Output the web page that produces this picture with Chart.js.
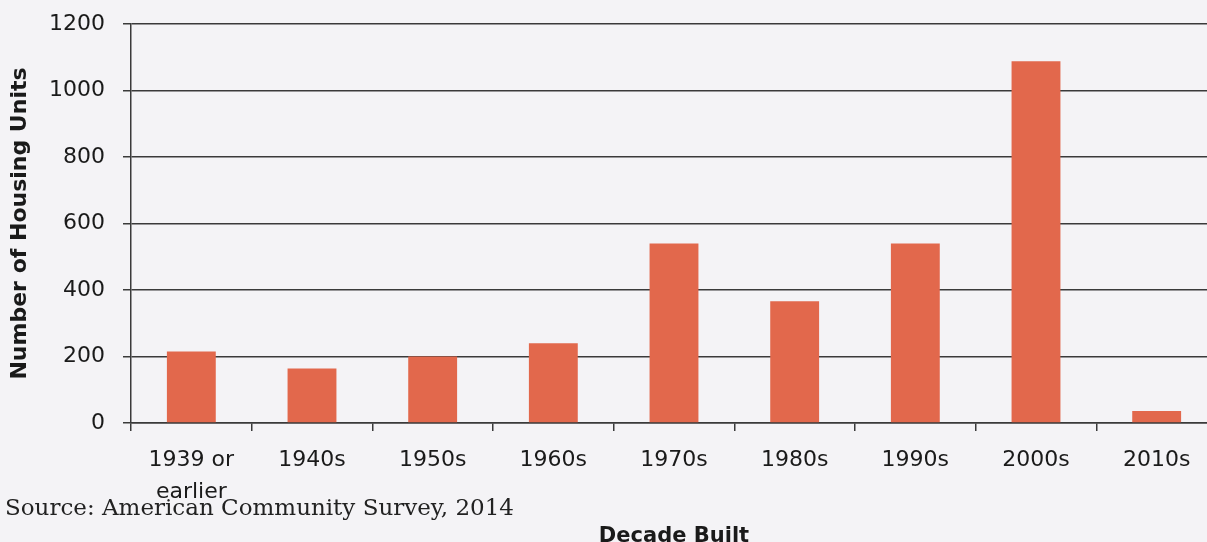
<!DOCTYPE html>
<html>
<head>
<meta charset="utf-8">
<script src="https://cdn.jsdelivr.net/npm/chart.js@4.4.0/dist/chart.umd.min.js"></script>
<style>
    html, body {
        margin: 0;
        padding: 0;
        overflow: hidden;
        background: #f4f3f6;
    }
    #wrap {
        position: absolute;
        left: 0;
        top: 0;
        width: 1230px;
        height: 542px;
    }
    #source {
        position: absolute;
        left: 5px;
        top: 494px;
        font-family: "DejaVu Serif", serif;
        font-size: 23px;
        color: #222;
        white-space: nowrap;
    }
</style>
</head>
<body>
<div id="wrap">
    <canvas id="housingChart" width="1230" height="542"></canvas>
    <div id="source">Source: American Community Survey, 2014</div>
</div>
<script>
const decades = [['1939 or', 'earlier'], '1940s', '1950s', '1960s', '1970s', '1980s', '1990s', '2000s', '2010s'];
const housingUnits = [215, 164, 200, 240, 540, 366, 540, 1088, 36];
const yTicks = [0, 200, 400, 600, 800, 1000, 1200];

const lineColor = '#3a3a3a';
const tickFont = { family: 'DejaVu Sans', size: 22, lineHeight: 1.45 };

const ctx = document.getElementById('housingChart').getContext('2d');
const housingChart = new Chart(ctx, {
    type: 'bar',
    data: {
        labels: decades,
        datasets: [{
            label: 'Number of Housing Units',
            data: housingUnits,
            backgroundColor: '#e2684c',
            borderWidth: 0,
            categoryPercentage: 1,
            barPercentage: 0.405
        }]
    },
    options: {
        responsive: false,
        animation: false,
        layout: {
            padding: { top: 24, right: 13, left: 0, bottom: 0 }
        },
        scales: {
            y: {
                min: 0,
                max: 1200,
                afterBuildTicks: (scale) => {
                    scale.ticks = yTicks.map(v => ({ value: v }));
                },
                afterFit: (scale) => {
                    scale.width = 131;
                    scale.paddingTop = 0;
                    scale.paddingBottom = 0;
                },
                grid: {
                    color: lineColor,
                    lineWidth: 1.5,
                    tickLength: 8
                },
                border: {
                    color: lineColor,
                    width: 1.5
                },
                ticks: {
                    color: '#1a1a1a',
                    font: tickFont,
                    padding: 18,
                    callback: (value) => String(value)
                },
                title: {
                    display: true,
                    text: 'Number of Housing Units',
                    color: '#1a1a1a',
                    font: { family: 'DejaVu Sans', size: 22, weight: 'bold', lineHeight: 1.1 },
                    padding: { top: 8, bottom: 0 }
                }
            },
            x: {
                afterFit: (scale) => {
                    scale.height = 119;
                },
                grid: {
                    offset: true,
                    drawOnChartArea: false,
                    color: lineColor,
                    lineWidth: 1.5,
                    tickLength: 8
                },
                border: {
                    color: lineColor,
                    width: 1.5
                },
                ticks: {
                    color: '#1a1a1a',
                    font: tickFont,
                    padding: 13,
                    maxRotation: 0,
                    autoSkip: false
                },
                title: {
                    display: true,
                    text: 'Decade Built',
                    color: '#1a1a1a',
                    font: { family: 'DejaVu Sans', size: 21, weight: 'bold', lineHeight: 1 },
                    padding: { top: 0, bottom: -5 }
                }
            }
        },
        plugins: {
            legend: {
                display: false
            },
            tooltip: {
                enabled: false
            }
        }
    }
});
</script>
</body>
</html>
